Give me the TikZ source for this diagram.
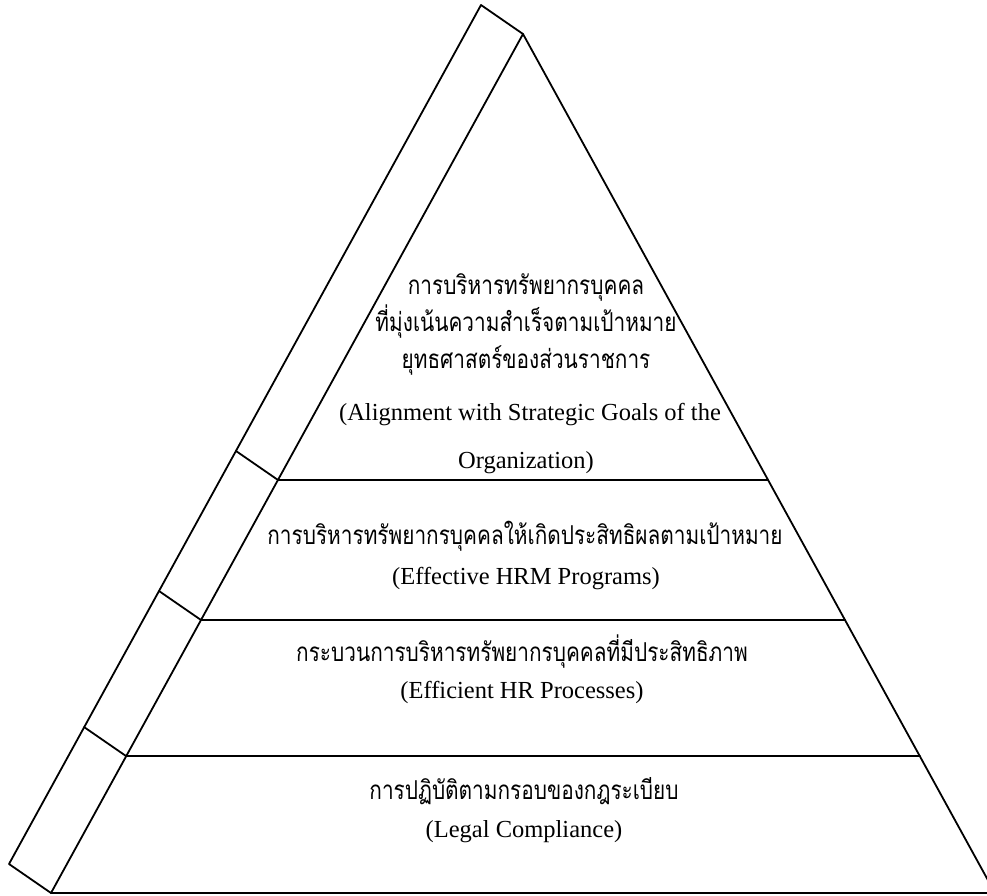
\documentclass[tikz,border=0pt]{standalone}
\usepackage{fontspec}
\setmainfont{Liberation Serif}
\newfontfamily\thaifont[Script=Thai, FakeStretch=0.8]{Loma}
\usetikzlibrary{positioning}

\begin{document}
\begin{tikzpicture}[
  x=1pt, y=-1pt,
  edge/.style={line width=1.8pt, line cap=round, line join=round},
  thline/.style={anchor=base, inner sep=0pt, font=\thaifont\fontsize{26}{26}\selectfont},
  enline/.style={anchor=base, inner sep=0pt, font=\fontsize{24.5}{24.5}\selectfont}
]
  \useasboundingbox (0,0) rectangle (987,896);

  % pyramid corners and band
  \coordinate (apex)    at (523,34);
  \coordinate (baseL)   at (51,893);
  \coordinate (baseR)   at (995,893);
  \coordinate (bandTop) at (481,5);
  \coordinate (bandBot) at (9,864);

  % level dividers
  \coordinate (l1) at (278,480);  \coordinate (r1) at (768,480);
  \coordinate (l2) at (201,620);  \coordinate (r2) at (845,620);
  \coordinate (l3) at (126,756);  \coordinate (r3) at (920,756);
  \coordinate (t1) at (236,451);
  \coordinate (t2) at (159,591);
  \coordinate (t3) at (84,727);

  \draw[edge] (bandTop) -- (apex) -- (baseR) -- (baseL) -- (bandBot) -- cycle;
  \draw[edge] (apex) -- (baseL);
  \draw[edge] (l1) -- (r1);
  \draw[edge] (l2) -- (r2);
  \draw[edge] (l3) -- (r3);
  \draw[edge] (l1) -- (t1);
  \draw[edge] (l2) -- (t2);
  \draw[edge] (l3) -- (t3);

  % top level
  \node[thline] (goalThA) at (526,294) {การบริหารทรัพยากรบุคคล};
  \node[thline] (goalThB) at (526,331) {ที่มุ่งเน้นความสำเร็จตามเป้าหมาย};
  \node[thline] (goalThC) at (526,368) {ยุทธศาสตร์ของส่วนราชการ};
  \node[enline] (goalEnA) at (530,420) {(Alignment with Strategic Goals of the};
  \node[enline] (goalEnB) at (526,468) {Organization)};

  % second level
  \node[thline] (effTh) at (525,544) {การบริหารทรัพยากรบุคคลให้เกิดประสิทธิผลตามเป้าหมาย};
  \node[enline] (effEn) at (526,584) {(Effective HRM Programs)};

  % third level
  \node[thline] (procTh) at (522,661) {กระบวนการบริหารทรัพยากรบุคคลที่มีประสิทธิภาพ};
  \node[enline] (procEn) at (522,698) {(Efficient HR Processes)};

  % base level
  \node[thline] (legalTh) at (524,799) {การปฏิบัติตามกรอบของกฎระเบียบ};
  \node[enline] (legalEn) at (524,837) {(Legal Compliance)};
\end{tikzpicture}
\end{document}
